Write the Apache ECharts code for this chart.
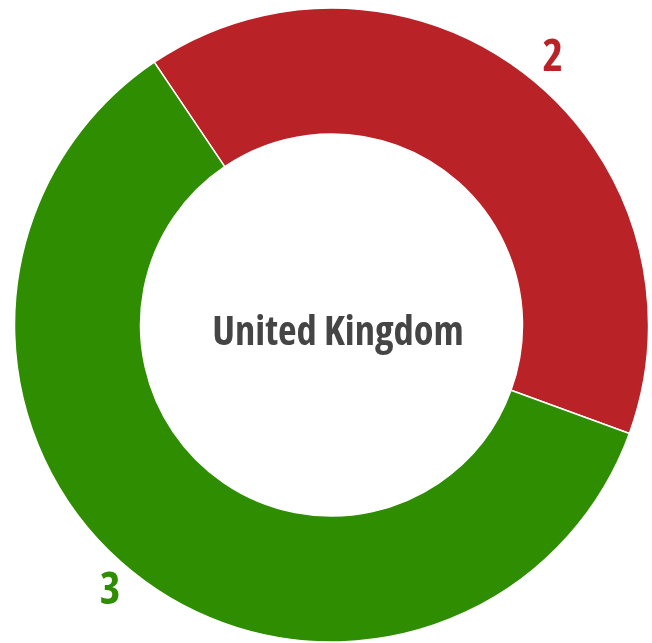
<!DOCTYPE html>
<html>
<head>
<meta charset="utf-8">
<script src="https://cdn.jsdelivr.net/npm/echarts@6/dist/echarts.min.js"></script>
<style>
html,body{margin:0;padding:0;background:#fff;}
#chart{width:652px;height:643px;}
</style>
</head>
<body>
<div id="chart"></div>
<script>
const categories = ['Red', 'Green'];
const values = [2, 3];
const colors = ['#b92328', '#2e8d00'];
const centerTitle = 'United Kingdom';

const FONT = '"Open Sans", "DejaVu Sans", sans-serif';
const chart = echarts.init(document.getElementById('chart'), null, {renderer: 'canvas'});
chart.setOption({
  animation: false,
  graphic: [{
    type: 'text',
    x: 338, y: 333,
    style: {
      text: centerTitle,
      fill: '#454545',
      font: 'condensed bold 40.5px ' + FONT,
      textAlign: 'center',
      textVerticalAlign: 'middle'
    }
  }],
  series: [{
    type: 'pie',
    center: [331.5, 325],
    radius: [191, 317],
    startAngle: 124,
    clockwise: true,
    avoidLabelOverlap: false,
    itemStyle: {borderColor: '#ffffff', borderWidth: 1.5},
    label: {
      show: true,
      position: 'outside',
      formatter: '{c}',
      fontStyle: 'condensed',
      fontFamily: FONT,
      fontWeight: 'bold',
      fontSize: 44,
      distanceToLabelLine: 3
    },
    labelLine: {show: false, length: 21, length2: 0},
    emphasis: {disabled: true},
    data: categories.map((c, i) => ({
      name: c,
      value: values[i],
      itemStyle: {color: colors[i]},
      label: {color: colors[i]}
    }))
  }]
});
</script>
</body>
</html>
